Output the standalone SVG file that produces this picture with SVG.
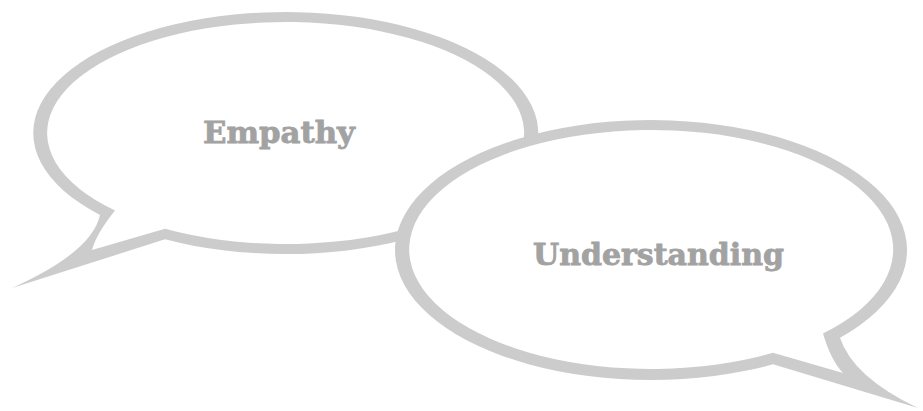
<svg xmlns="http://www.w3.org/2000/svg" width="923" height="411" viewBox="0 0 923 411">
  <style>
    .rim { fill: #cccccc; }
    .face { fill: #ffffff; }
    .label { font-family: "DejaVu Serif", "Liberation Serif", serif; font-weight: bold; font-size: 30px; fill: #a2a2a2; stroke: #a2a2a2; stroke-width: 0.8; }
  </style>
  <rect width="923" height="411" fill="#ffffff"/>

  <!-- Each bubble: a grey outer contour with a white inner contour on top, so the tail tapers to a point -->
  <g id="bubble-empathy">
    <path class="rim" d="M100,215 A252.5,121 0 1 1 165,239.3 L12,288 Q92,252 100,215 Z"/>
    <path class="face" d="M115,210.6 A238.5,111 0 1 1 165,228.8 L92,250 Q96.5,233.7 115,210.6 Z"/>
    <text class="label" x="203" y="143" textLength="152" lengthAdjust="spacingAndGlyphs">Empathy</text>
  </g>

  <g id="bubble-understanding">
    <path class="rim" d="M840,337.7 A256,130 0 1 0 773,364.3 L918,408 Q853,377 840,337.7 Z"/>
    <path class="face" d="M823,333.6 A242,119.5 0 1 0 773,352.7 L843,373 Q831,360.7 823,333.6 Z"/>
    <text class="label" x="533" y="265" textLength="251" lengthAdjust="spacingAndGlyphs">Understanding</text>
  </g>
</svg>
